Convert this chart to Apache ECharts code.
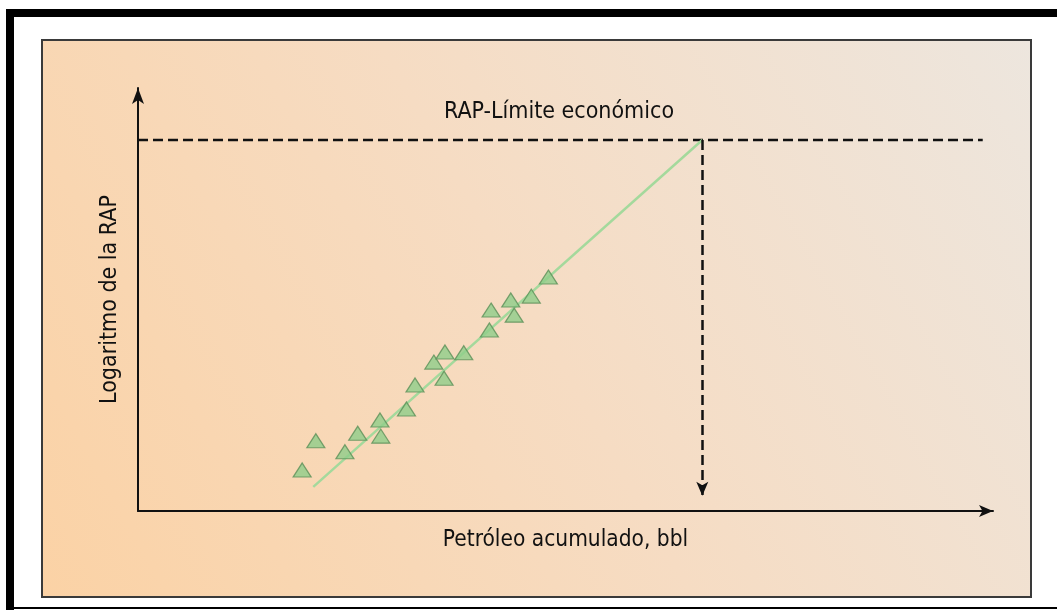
<!DOCTYPE html>
<html style="height: 100%">
  <head>
    <meta charset="utf-8" />
    <title>RAP</title>
    <script src="https://cdn.jsdelivr.net/npm/echarts@6/dist/echarts.min.js"></script>
  </head>
  <body style="height: 100%; margin: 0; background: #fff">
    <div id="main" style="width: 1057px; height: 610px"></div>
    <script type="text/javascript">
      // puntos medidos: petróleo acumulado (x) y log RAP (y), escala 0-100
      var puntosX = [19.2, 20.8, 24.2, 25.7, 28.3, 28.4, 31.4, 32.4, 34.6, 35.9, 35.8, 38.1, 41.1, 41.3, 43.6, 44.0, 46.0, 48.0];
      var puntosY = [9.7, 16.6, 14.0, 18.4, 21.5, 17.7, 24.1, 29.8, 35.2, 37.6, 31.4, 37.4, 42.8, 47.5, 49.9, 46.3, 50.8, 55.3];
      // recta de tendencia, hasta el límite económico
      var tendenciaX = [20.5, 66.0];
      var tendenciaY = [5.7, 87.7];
      var limiteRAP = 87.7;
      var limiteFinX = 98.8;
      var flechaFinY = 3.6;

      var fuente = "'DejaVu Sans Condensed', 'DejaVu Sans', sans-serif";

      var puntos = [];
      for (var i = 0; i < puntosX.length; i++) {
        puntos.push([puntosX[i], puntosY[i]]);
      }

      var myChart = echarts.init(document.getElementById("main"));

      var option = {
        animation: false,
        graphic: [
          // marco interior con degradado
          {
            type: "rect",
            shape: { x: 42, y: 40, width: 989, height: 557 },
            style: {
              fill: new echarts.graphic.LinearGradient(0, 1, 1, 0, [
                { offset: 0, color: "#fbd2a5" },
                { offset: 0.5, color: "#f6dcc3" },
                { offset: 1, color: "#ede6de" },
              ]),
              stroke: "#3a3a3a",
              lineWidth: 2,
            },
            z: -10,
          },
          // borde negro exterior
          { type: "rect", shape: { x: 6, y: 9, width: 8, height: 601 }, style: { fill: "#000" }, z: -5 },
          { type: "rect", shape: { x: 6, y: 9, width: 1051, height: 8 }, style: { fill: "#000" }, z: -5 },
          { type: "rect", shape: { x: 14, y: 607, width: 1043, height: 2 }, style: { fill: "#000" }, z: -5 },
          {
            type: "text",
            x: 559,
            y: 112,
            style: {
              text: "RAP-Límite económico",
              font: "23px " + fuente,
              fill: "#111",
              align: "center",
              verticalAlign: "middle",
            },
            z: 10,
          },
        ],
        grid: { left: 138, right: 64, top: 88, bottom: 99 },
        xAxis: {
          type: "value",
          min: 0,
          max: 100,
          name: "Petróleo acumulado, bbl",
          nameLocation: "middle",
          nameGap: 18,
          nameTextStyle: { fontFamily: fuente, fontSize: 22.5, color: "#111" },
          axisLine: {
            lineStyle: { color: "#111", width: 2 },
            symbol: ["none", "arrow"],
            symbolSize: [9, 14],
          },
          axisTick: { show: false },
          axisLabel: { show: false },
          splitLine: { show: false },
        },
        yAxis: {
          type: "value",
          min: 0,
          max: 100,
          name: "Logaritmo de la RAP",
          nameLocation: "middle",
          nameRotate: 90,
          nameGap: 16,
          nameTextStyle: { fontFamily: fuente, fontSize: 23, color: "#111" },
          axisLine: {
            lineStyle: { color: "#111", width: 2 },
            symbol: ["none", "arrow"],
            symbolSize: [9, 16],
          },
          axisTick: { show: false },
          axisLabel: { show: false },
          splitLine: { show: false },
        },
        series: [
          {
            type: "line",
            data: [
              [0, limiteRAP],
              [limiteFinX, limiteRAP],
            ],
            symbol: "none",
            lineStyle: { color: "#111", width: 2.5, type: [10, 5] },
            markLine: {
              silent: true,
              symbol: ["none", "arrow"],
              symbolSize: [9, 14],
              label: { show: false },
              lineStyle: { color: "#111", width: 2.5, type: [10, 5] },
              data: [
                [
                  { coord: [tendenciaX[1], limiteRAP] },
                  { coord: [tendenciaX[1], flechaFinY] },
                ],
              ],
            },
            z: 3,
          },
          {
            type: "line",
            data: [
              [tendenciaX[0], tendenciaY[0]],
              [tendenciaX[1], tendenciaY[1]],
            ],
            symbol: "none",
            lineStyle: { color: "#a4d99c", width: 2.5 },
            z: 4,
          },
          {
            type: "scatter",
            data: puntos,
            symbol: "triangle",
            symbolSize: [18, 14],
            itemStyle: { color: "#8fcd8a", borderColor: "#5b8f58", borderWidth: 1.2 },
            z: 5,
          },
        ],
      };

      myChart.setOption(option);
    </script>
  </body>
</html>
